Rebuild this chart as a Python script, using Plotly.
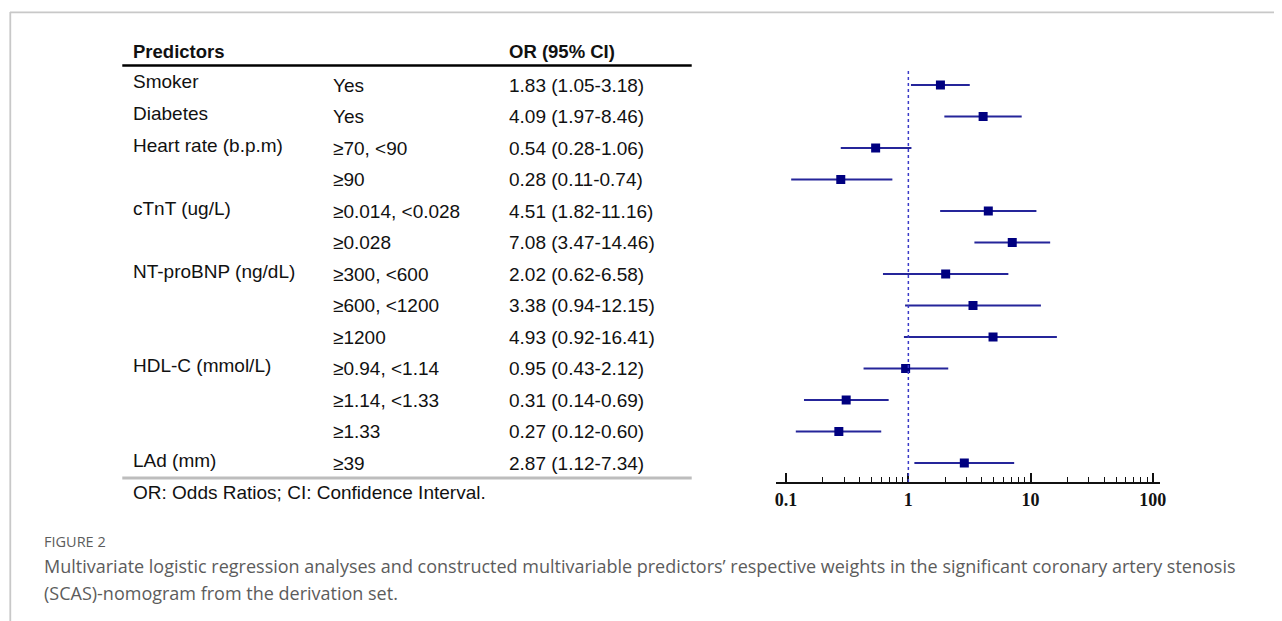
import plotly.graph_objects as go

predictors = ["Smoker", "Diabetes", "Heart rate (b.p.m)", "", "cTnT (ug/L)", "", "NT-proBNP (ng/dL)", "", "",
              "HDL-C (mmol/L)", "", "", "LAd (mm)"]
levels = ["Yes", "Yes", "≥70, <90", "≥90", "≥0.014, <0.028", "≥0.028", "≥300, <600", "≥600, <1200", "≥1200",
          "≥0.94, <1.14", "≥1.14, <1.33", "≥1.33", "≥39"]
odds = [1.83, 4.09, 0.54, 0.28, 4.51, 7.08, 2.02, 3.38, 4.93, 0.95, 0.31, 0.27, 2.87]
lower = [1.05, 1.97, 0.28, 0.11, 1.82, 3.47, 0.62, 0.94, 0.92, 0.43, 0.14, 0.12, 1.12]
upper = [3.18, 8.46, 1.06, 0.74, 11.16, 14.46, 6.58, 12.15, 16.41, 2.12, 0.69, 0.60, 7.34]
tick_vals = [0.1, 1, 10, 100]
tick_text = ["0.1", "1", "10", "100"]

W, H = 1282, 621
OFF = 8  # page body margin
def X(p): return (p - OFF) / W
def Y(p): return 1 - (p - OFF) / H

rows = list(range(1, len(odds) + 1))
row_y0, row_dy = 85, 31.5
ax_top, ax_bot = 68, 482
def rowpix(i): return row_y0 + (i - 1) * row_dy
rng_top = 1 + (ax_top - row_y0) / row_dy
rng_bot = 1 + (ax_bot - row_y0) / row_dy

# x axis: 0.1 at 790 px, 100 at 1159 px; axis line from 780 to 1166 px
px01, px100, axl, axr = 790, 1159, 780, 1166
dec = (px100 - px01) / 3
x_range = [-1 - (px01 - axl) / dec, 2 + (axr - px100) / dec]

navy = "#000080"
line_col = "#25259a"

fig = go.Figure()
fig.add_trace(go.Scatter(
    x=odds, y=rows, mode="markers",
    marker=dict(symbol="square", size=9, color=navy),
    error_x=dict(type="data", symmetric=False,
                 array=[u - o for u, o in zip(upper, odds)],
                 arrayminus=[o - l for o, l in zip(odds, lower)],
                 width=0, thickness=2.2, color=line_col),
    showlegend=False, hoverinfo="skip"))

minor_vals = [m * d for d in (0.1, 1, 10) for m in range(2, 10)]
fig.update_xaxes(type="log", range=x_range, domain=[X(axl), X(axr)],
                 showgrid=False, zeroline=False, showline=True, linecolor="#111", linewidth=2.2,
                 ticks="inside", ticklen=9, tickwidth=1.6, tickcolor="#111",
                 tickvals=tick_vals, ticktext=tick_text,
                 tickfont=dict(family="Liberation Serif", size=18, color="#111", weight="bold"),
                 minor=dict(tickvals=minor_vals, ticks="inside", ticklen=5, tickwidth=1.3, tickcolor="#111", showgrid=False),
                 anchor="y")
fig.update_yaxes(range=[rng_bot, rng_top], domain=[Y(ax_bot), Y(ax_top)],
                 visible=False, showgrid=False, zeroline=False)

shapes = []
shapes.append(dict(type="line", xref="x", yref="y domain", x0=1, x1=1, y0=0, y1=1,
                   line=dict(color="#3a3ac8", width=1.5, dash="dot")))
shapes.append(dict(type="line", xref="paper", yref="paper", x0=X(122), x1=X(695), y0=Y(65.5), y1=Y(65.5),
                   line=dict(color="#000", width=2.5)))
shapes.append(dict(type="line", xref="paper", yref="paper", x0=X(122), x1=X(695), y0=Y(478), y1=Y(478),
                   line=dict(color="#bdbdbd", width=3)))
shapes.append(dict(type="line", xref="paper", yref="paper", x0=X(9), x1=1, y0=Y(12.3), y1=Y(12.3),
                   line=dict(color="#c8c8c8", width=1.8)))
shapes.append(dict(type="line", xref="paper", yref="paper", x0=X(9.3), x1=X(9.3), y0=Y(12), y1=0,
                   line=dict(color="#c8c8c8", width=1.8)))

ann = []
tf = dict(family="Liberation Sans", size=19, color="#111")
def text(x, y, s, font=tf):
    ann.append(dict(xref="paper", yref="paper", x=X(x), y=Y(y), text=s, showarrow=False,
                    xanchor="left", yanchor="middle", font=font))

bold = dict(tf, size=18.5, weight="bold")
text(131, 52, "<b>Predictors</b>", bold)
text(509, 52, "<b>OR (95% CI)</b>", bold)
for i, (p, l, o, lo, up) in enumerate(zip(predictors, levels, odds, lower, upper), start=1):
    yp = rowpix(i)
    if p:
        text(131, yp - 3, p)
    text(332, yp, l)
    text(509, yp, f"{o:.2f} ({lo:.2f}-{up:.2f})")
text(131, 492, "OR: Odds Ratios; CI: Confidence Interval.")

cap = dict(family="Open Sans", size=18, color="#5c5c5c")
text(41, 541, "FIGURE 2", dict(family="Open Sans", size=14.5, color="#5c5c5c"))
text(41, 566, "Multivariate logistic regression analyses and constructed multivariable predictors’ respective weights in the significant coronary artery stenosis", cap)
text(41, 593, "(SCAS)-nomogram from the derivation set.", cap)

fig.update_layout(width=W, height=H, margin=dict(l=0, r=0, t=0, b=0),
                  paper_bgcolor="white", plot_bgcolor="white",
                  shapes=shapes, annotations=ann)
fig.write_html("out.html")
